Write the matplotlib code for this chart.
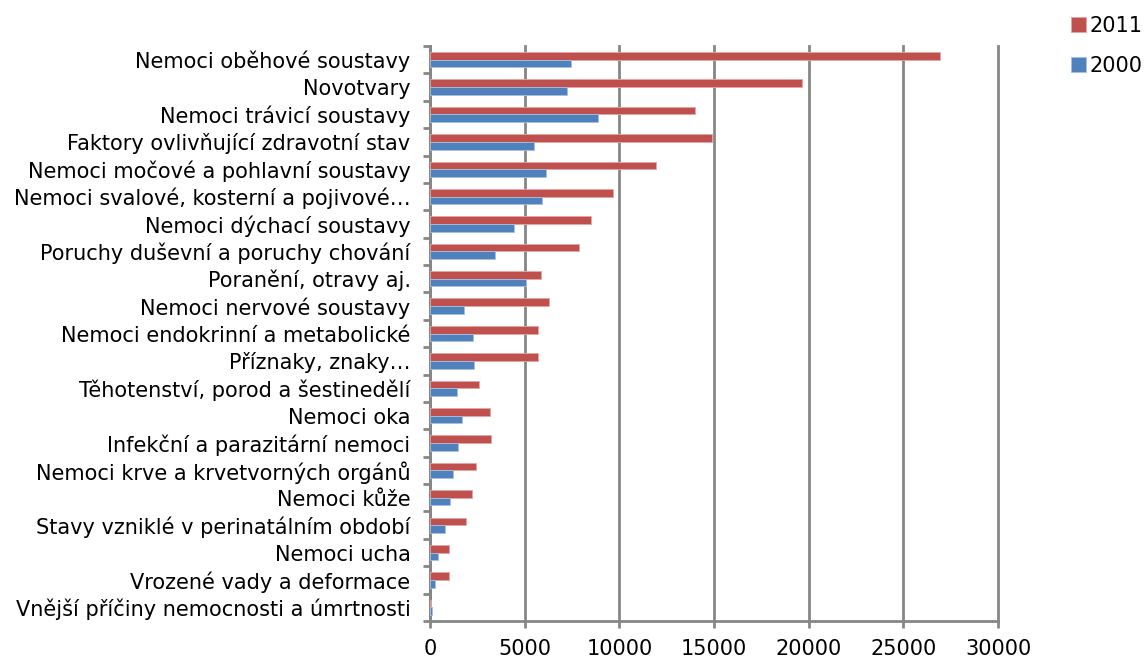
import numpy as np
import matplotlib.pyplot as plt

# categories (top to bottom as shown)
categories = [
    "Nemoci oběhové soustavy",
    "Novotvary",
    "Nemoci trávicí soustavy",
    "Faktory ovlivňující zdravotní stav",
    "Nemoci močové a pohlavní soustavy",
    "Nemoci svalové, kosterní a pojivové…",
    "Nemoci dýchací soustavy",
    "Poruchy duševní a poruchy chování",
    "Poranění, otravy aj.",
    "Nemoci nervové soustavy",
    "Nemoci endokrinní a metabolické",
    "Příznaky, znaky…",
    "Těhotenství, porod a šestinedělí",
    "Nemoci oka",
    "Infekční a parazitární nemoci",
    "Nemoci krve a krvetvorných orgánů",
    "Nemoci kůže",
    "Stavy vzniklé v perinatálním období",
    "Nemoci ucha",
    "Vrozené vady a deformace",
    "Vnější příčiny nemocnosti a úmrtnosti",
]
values_2011 = [26950, 19660, 14020, 14900, 11940, 9680, 8510, 7870, 5870, 6260,
               5680, 5680, 2570, 3150, 3210, 2440, 2210, 1910, 990, 990, 35]
values_2000 = [7450, 7210, 8870, 5510, 6130, 5940, 4420, 3430, 5090, 1790,
               2280, 2340, 1400, 1680, 1500, 1200, 1030, 810, 440, 250, 110]
x_ticks = [0, 5000, 10000, 15000, 20000, 25000, 30000]

RED = "#C0504D"
BLUE = "#4F81BD"
GRID = "#868686"

plt.rcParams["font.family"] = ["DejaVu Sans"]
FS = 15

fig = plt.figure(figsize=(11.47, 6.6), dpi=100)
ax = fig.add_axes([430 / 1147, 1 - 621 / 660, 568 / 1147, 575 / 660])

y = np.arange(len(categories))
h = 0.28
ax.barh(y - h / 2, values_2011, height=h, color=RED, edgecolor="#E3A6A4",
        linewidth=0.6, label="2011", zorder=3)
ax.barh(y + h / 2, values_2000, height=h, color=BLUE, edgecolor="#A8C0DE",
        linewidth=0.6, label="2000", zorder=3)

ax.set_ylim(len(categories) - 0.5, -0.5)
ax.set_xlim(0, 30000)
ax.set_xticks(x_ticks)
ax.set_xticklabels([str(t) for t in x_ticks], fontsize=FS)
ax.set_yticks(y)
ax.set_yticklabels(categories, fontsize=FS)
ax.tick_params(axis="y", length=0, pad=14)
ax.tick_params(axis="x", length=5, width=2, color=GRID, pad=8)
# tick marks between categories
ax.set_yticks(np.arange(-0.5, len(categories) + 0.5, 1), minor=True)
ax.tick_params(axis="y", which="minor", length=5, width=2, color=GRID)

ax.grid(axis="x", color=GRID, linewidth=2, zorder=0)
for gl in ax.xaxis.get_gridlines():
    gl.set_clip_on(False)
for side in ["top", "right"]:
    ax.spines[side].set_visible(False)
for side in ["left", "bottom"]:
    ax.spines[side].set_color(GRID)
    ax.spines[side].set_linewidth(2)

fig.legend(loc="upper left", bbox_to_anchor=(1071 / 1147, 1 - 16 / 660),
           frameon=False, fontsize=FS, handlelength=0.7, handleheight=0.7,
           handletextpad=0.2, labelspacing=0.95, borderaxespad=0, borderpad=0)

fig.savefig("out.png", dpi=100)
plt.close(fig)
